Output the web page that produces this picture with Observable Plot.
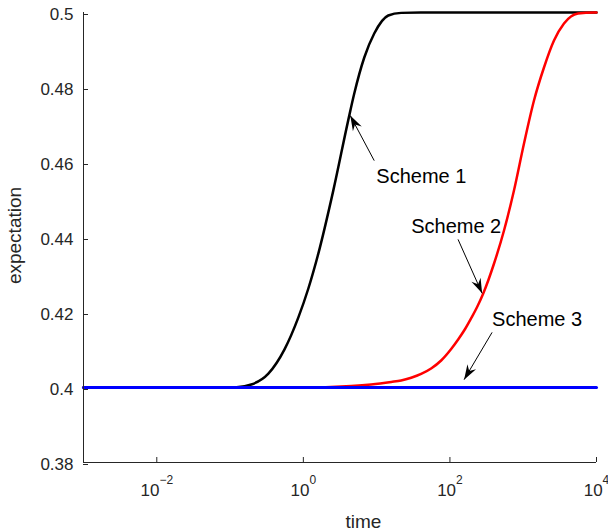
<!DOCTYPE html>
<html><head><meta charset="utf-8">
<script src="https://cdn.jsdelivr.net/npm/d3@7"></script>
<script src="https://cdn.jsdelivr.net/npm/@observablehq/plot@0.6"></script>
<style>
body{margin:0;background:#fff;}
#chart svg{display:block;}
</style></head><body><div id="chart"></div>
<script>
const xDomain = [1e-3, 1e4];
const yDomain = [0.38, 0.5];
const xTicks = [1e-2, 1, 1e2, 1e4];
const xTickLabels = ["10^−2", "10^0", "10^2", "10^4"];
const yTicks = [0.38, 0.4, 0.42, 0.44, 0.46, 0.48, 0.5];
const yTickLabels = ["0.38", "0.4", "0.42", "0.44", "0.46", "0.48", "0.5"];
const xLabel = "time";
const yLabel = "expectation";

const scheme1Time  = [0.001, 0.05, 0.115, 0.195, 0.333, 0.551, 0.855, 1.17, 1.60, 2.56, 4.10, 4.95, 6.78, 9.27, 14.4, 21.6, 40, 10000];
const scheme1Value = [0.4, 0.4, 0.4, 0.4008, 0.4037, 0.4101, 0.4187, 0.4264, 0.4357, 0.4525, 0.4713, 0.4784, 0.4880, 0.4944, 0.4992, 0.4999, 0.5, 0.5];

const scheme2Time  = [0.001, 0.9, 4.5, 8.4, 15.8, 21.6, 29.6, 40.5, 55.4, 75.9, 104, 129.5, 161, 194, 235, 283, 400, 547, 748, 1025, 1403, 1920, 2630, 3600, 5580, 9220, 10000];
const scheme2Value = [0.4, 0.4, 0.4004, 0.4008, 0.40147, 0.40187, 0.40261, 0.40363, 0.40507, 0.4072, 0.41027, 0.4128, 0.4156, 0.4184, 0.42147, 0.42493, 0.43307, 0.44187, 0.45253, 0.46507, 0.47653, 0.48533, 0.49253, 0.49707, 0.49973, 0.5, 0.5];

const scheme3Time  = [0.001, 10000];
const scheme3Value = [0.4, 0.4];

const annotationLabels = ["Scheme 1", "Scheme 2", "Scheme 3"];
const labelTime  = [9.9, 29.6, 376];
const labelValue = [0.4563, 0.4429, 0.4181];
const arrowFromTime  = [9.27, 129, 376];
const arrowFromValue = [0.4605, 0.4395, 0.4147];
const arrowToTime    = [4.37, 275, 156];
const arrowToValue   = [0.4725, 0.4251, 0.4021];

const rows = (ts, vs) => ts.map((t, i) => ({t, v: vs[i]}));
const labels = annotationLabels.map((s, i) => ({s, t: labelTime[i], v: labelValue[i]}));
const arrows = annotationLabels.map((s, i) => ({t1: arrowFromTime[i], v1: arrowFromValue[i], t2: arrowToTime[i], v2: arrowToValue[i]}));

const font = "'Liberation Sans', Arial, Helvetica, sans-serif";
const axisColor = "#262626";

const chart = Plot.plot({
  width: 608,
  height: 531,
  marginTop: 12,
  marginLeft: 83,
  marginRight: 12,
  marginBottom: 69,
  style: {fontFamily: font, background: "#fff", overflow: "visible"},
  x: {type: "log", domain: xDomain},
  y: {domain: yDomain},
  marks: [
    Plot.line(rows(scheme1Time, scheme1Value), {x: "t", y: "v", stroke: "#000000", strokeWidth: 2.5, curve: "monotone-x"}),
    Plot.line(rows(scheme2Time, scheme2Value), {x: "t", y: "v", stroke: "#ff0000", strokeWidth: 2.5, curve: "monotone-x"}),
    Plot.line(rows(scheme3Time, scheme3Value), {x: "t", y: "v", stroke: "#0000ff", strokeWidth: 3}),
    Plot.ruleX([xDomain[0]], {stroke: axisColor, strokeWidth: 1}),
    Plot.ruleY([yDomain[0]], {stroke: axisColor, strokeWidth: 1}),
    Plot.axisY(yTicks, {anchor: "left", tickSize: -5, tickPadding: 15, dy: 2,
      tickFormat: d => yTickLabels[yTicks.indexOf(d)], fontSize: 17, color: axisColor, label: null}),
    Plot.axisX(xTicks, {anchor: "bottom", tickSize: -5, tickPadding: 26,
      tickFormat: d => xTickLabels[xTicks.indexOf(d)], fontSize: 17, color: axisColor, label: null}),
    Plot.text([xLabel], {frameAnchor: "bottom", textAnchor: "middle", lineAnchor: "bottom", dy: 65, dx: 23.5, fontSize: 19, fill: axisColor}),
    Plot.text([yLabel], {frameAnchor: "left", textAnchor: "middle", lineAnchor: "bottom", rotate: -90, dx: -63, dy: -2, fontSize: 19, fill: axisColor}),
    Plot.link(arrows, {x1: "t1", y1: "v1", x2: "t2", y2: "v2", stroke: "#000", strokeWidth: 1}),
    Plot.text(labels, {x: "t", y: "v", text: "s", textAnchor: "start", lineAnchor: "middle", fontSize: 20, fill: "#000"})
  ]
});

const svg = d3.select(chart);
// superscript exponents on log-axis tick labels
svg.selectAll('g[aria-label="x-axis tick label"] text').each(function() {
  const parts = this.textContent.split("^");
  const t = d3.select(this);
  t.text(null);
  t.append("tspan").text(parts[0]);
  t.append("tspan").attr("dy", -12).attr("font-size", 12).text(parts[1]);
});
// filled dart heads for annotation arrows
const defs = svg.insert("defs", ":first-child");
defs.append("marker")
  .attr("id", "dart").attr("markerUnits", "userSpaceOnUse")
  .attr("viewBox", "-16 -7 17 14").attr("markerWidth", 17).attr("markerHeight", 14)
  .attr("refX", 0).attr("refY", 0).attr("orient", "auto")
  .append("path").attr("d", "M0,0 L-15,-5 L-10,0 L-15,5 Z").attr("fill", "#000");
svg.selectAll('g[aria-label="link"] path').attr("marker-end", "url(#dart)");

document.getElementById("chart").appendChild(chart);
</script>
</body></html>
